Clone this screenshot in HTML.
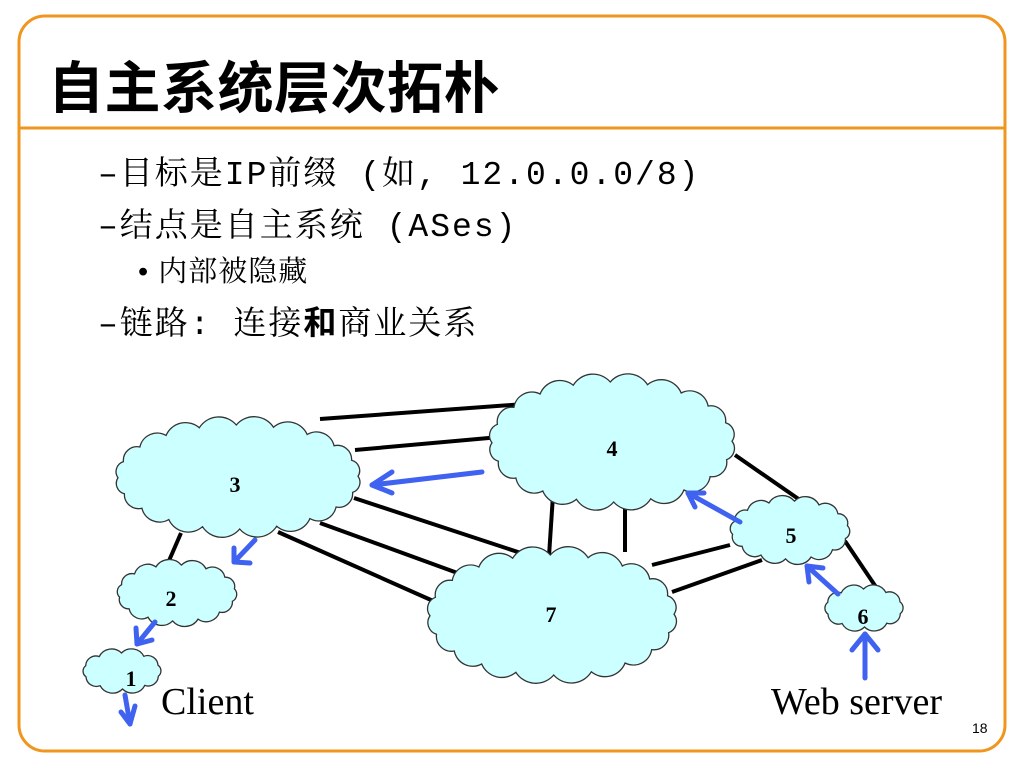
<!DOCTYPE html>
<html><head><meta charset="utf-8"><style>
body{margin:0;width:1024px;height:768px;background:#fff;overflow:hidden}
</style></head><body>
<svg width="1024" height="768" xmlns="http://www.w3.org/2000/svg">
<rect x="19" y="16" width="986" height="735" rx="26" fill="none" stroke="#F0961E" stroke-width="3"/>
<line x1="19" y1="128" x2="1005" y2="128" stroke="#F0961E" stroke-width="3"/>
<text x="48" y="108" font-family="'Liberation Sans','Noto Sans CJK SC',sans-serif" font-size="56" font-weight="bold" letter-spacing="0.5">自主系统层次拓朴</text>
<g font-family="'Liberation Mono','Noto Serif CJK SC',monospace" font-size="33" letter-spacing="2">
<text x="98" y="184">–目标是IP前缀 (如, 12.0.0.0/8)</text>
<text x="98" y="236">–结点是自主系统 (ASes)</text>
<text x="98" y="334">–链路: 连接<tspan font-weight="bold" font-family="'Noto Sans CJK SC',sans-serif">和</tspan>商业关系</text>
</g>
<text x="138" y="281" font-family="'Liberation Sans','Noto Serif CJK SC',serif" font-size="29" letter-spacing="1">• 内部被隐藏</text>
<g stroke="#000" stroke-width="4">
<line x1="320" y1="419" x2="525" y2="404"/><line x1="355" y1="450" x2="500" y2="437"/>
<line x1="354" y1="498" x2="530" y2="556"/><line x1="320" y1="523" x2="463" y2="575"/><line x1="278" y1="532" x2="440" y2="604"/>
<line x1="181" y1="533" x2="168" y2="563"/>
<line x1="553" y1="495" x2="549" y2="556"/><line x1="625" y1="505" x2="625" y2="552"/>
<line x1="735" y1="455" x2="800" y2="500"/>
<line x1="652" y1="565" x2="730" y2="545"/><line x1="672" y1="592" x2="762" y2="560"/>
<line x1="845" y1="541" x2="878" y2="590"/>
</g>
<g id="clouds" fill="#CCFFFF" stroke="#333" stroke-width="1.3"></g>
<g stroke="#3F62F0" stroke-width="5" fill="none" stroke-linecap="round" stroke-linejoin="round">
<line x1="482" y1="472" x2="372" y2="485"/><path d="M392,472 L372,485 L392,493"/>
<line x1="255" y1="540" x2="234" y2="562"/><path d="M234,548 L234,562 L250,563"/>
<line x1="155" y1="622" x2="137" y2="644"/><path d="M136,628 L137,644 L152,640"/>
<line x1="125" y1="695" x2="130" y2="724"/><path d="M121,712 L130,724 L135,706"/>
<line x1="740" y1="522" x2="688" y2="493"/><path d="M695,507 L688,493 L704,493"/>
<line x1="838" y1="594" x2="807" y2="566"/><path d="M809,582 L807,566 L823,568"/>
<line x1="865" y1="678" x2="865" y2="634"/><path d="M852,650 L865,634 L878,650"/>
</g>
<g font-family="'Liberation Serif',serif" font-weight="bold" font-size="22" text-anchor="middle">
<text x="235" y="492">3</text><text x="612" y="456">4</text><text x="171" y="606">2</text>
<text x="131" y="686">1</text><text x="551" y="622">7</text><text x="791" y="543">5</text><text x="863" y="624">6</text>
</g>
<g font-family="'Liberation Serif',serif" font-size="38">
<text x="161" y="714">Client</text><text x="771" y="714">Web server</text>
</g>
<text x="972" y="733" font-family="'Liberation Sans',sans-serif" font-size="14">18</text>
</svg>
<script>
var C=[[238,477,120,52,20],[612,442,120,60,20],[177,593,58,28,14],[122,671,38,18,10],[552,615,122,60,20],[790,530,58,29,14],[864,608,38,19,10]];
var g=document.getElementById('clouds');var s='';
C.forEach(function(c){var cx=c[0],cy=c[1],rx=c[2],ry=c[3],n=c[4];var d='';var px,py;
for(var i=0;i<=n;i++){var a=i/n*2*Math.PI+0.3;var x=cx+rx*Math.cos(a),y=cy+ry*Math.sin(a);
if(i==0)d+='M'+x.toFixed(1)+','+y.toFixed(1);else{var ch=Math.hypot(x-px,y-py);var r=ch*0.62;d+=' A'+r.toFixed(1)+','+r.toFixed(1)+' 0 0 1 '+x.toFixed(1)+','+y.toFixed(1);}px=x;py=y;}
s+='<path d="'+d+'Z"/>';});
g.innerHTML=s;
</script>
</body></html>
